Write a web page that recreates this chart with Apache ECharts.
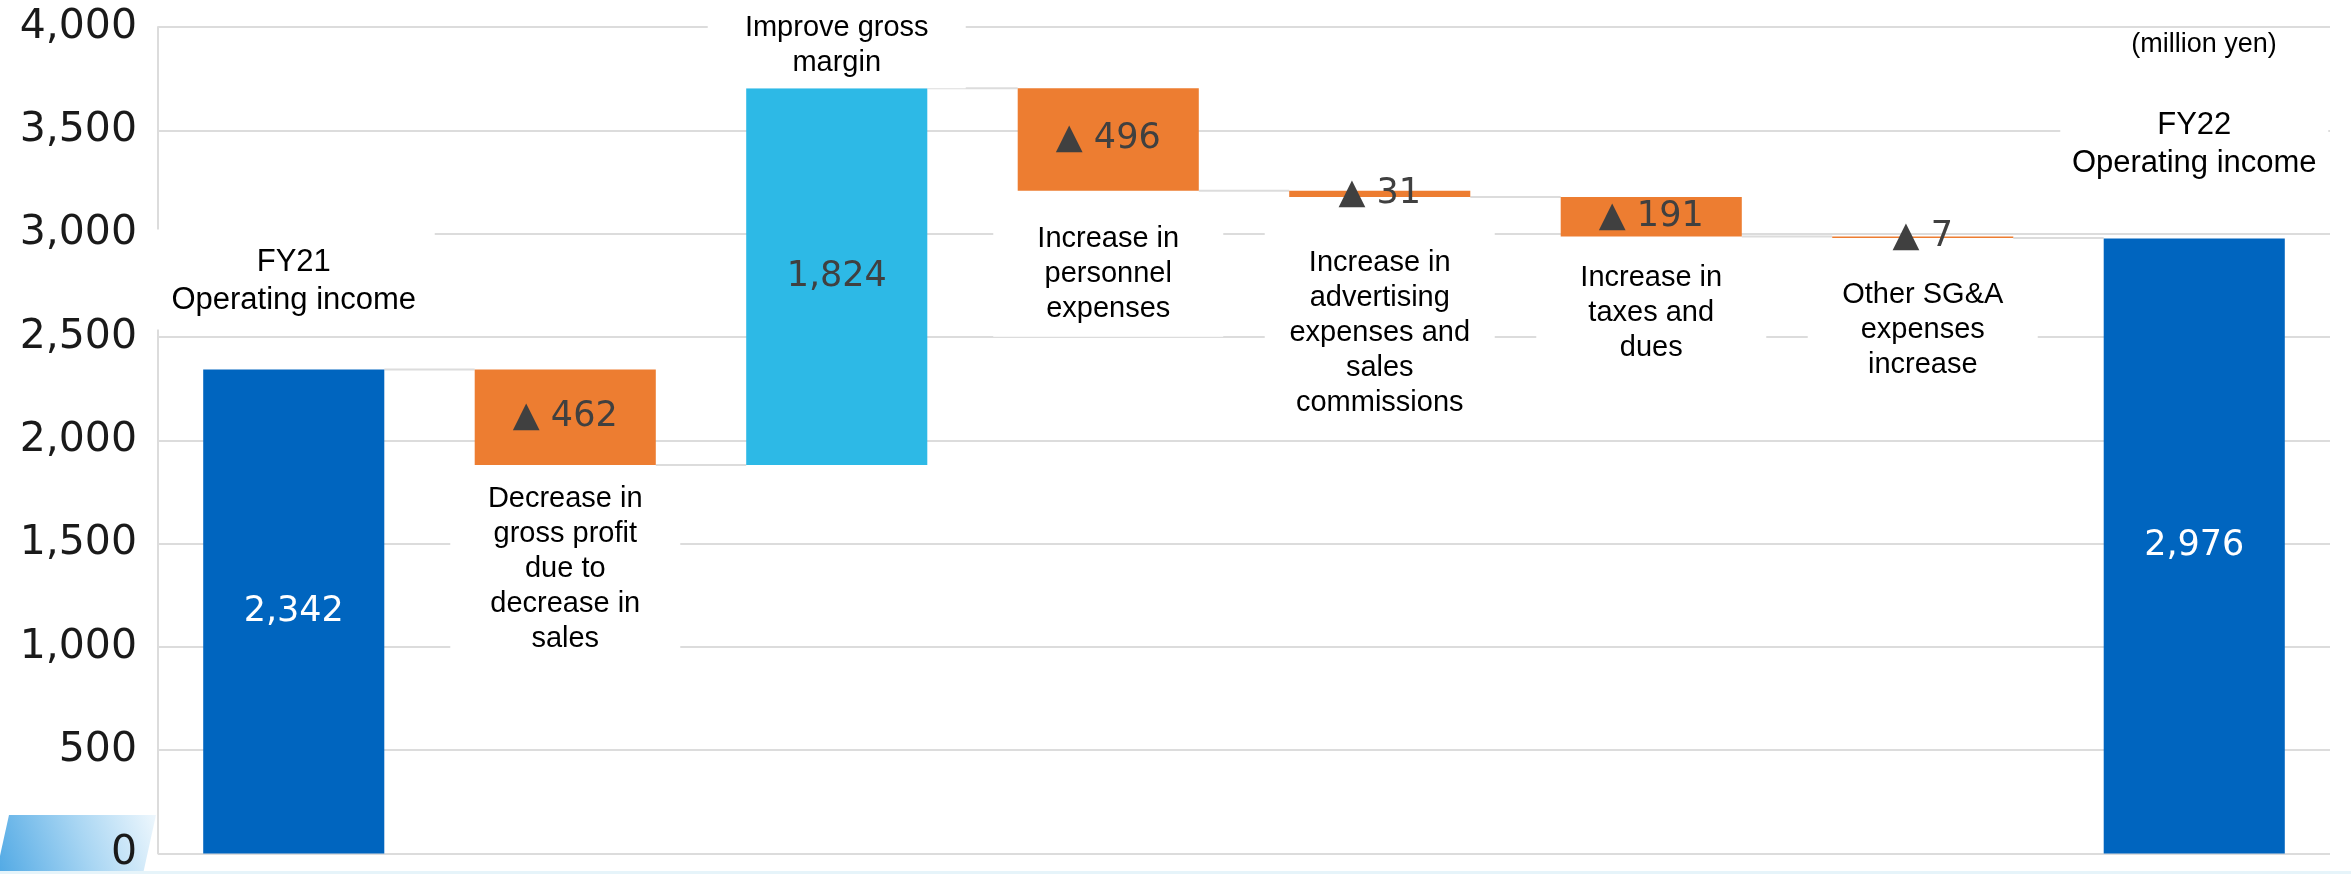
<!DOCTYPE html>
<html>
<head>
<meta charset="utf-8">
<script src="https://cdn.jsdelivr.net/npm/echarts@6/dist/echarts.min.js"></script>
<style>
  html, body { margin: 0; padding: 0; background: #ffffff; }
  #chart { width: 2351px; height: 874px; }
</style>
</head>
<body>
<div id="chart"></div>
<script>
// ---- data ----
const categories = [
  'FY21\nOperating income',
  'Decrease in\ngross profit\ndue to\ndecrease in\nsales',
  'Improve gross\nmargin',
  'Increase in\npersonnel\nexpenses',
  'Increase in\nadvertising\nexpenses and\nsales\ncommissions',
  'Increase in\ntaxes and\ndues',
  'Other SG&A\nexpenses\nincrease',
  'FY22\nOperating income'
];
const changes = [2342, -462, 1824, -496, -31, -191, -7, 2976];
const isTotal = [true, false, false, false, false, false, false, true];
const yMin = 0;
const yMax = 4000;
const yStep = 500;
const unitLabel = '(million yen)';

// ---- styling ----
const COLOR_TOTAL = '#0065BF';
const COLOR_UP = '#2DB9E6';
const COLOR_DOWN = '#ED7D31';
const GRID_COLOR = '#dcdcdc';
const BAR_RATIO = 0.667;
const CAPTION_FONT = '"Liberation Sans", Arial, sans-serif';
const VALUE_FONT = '"DejaVu Sans", sans-serif';

// caption box placement per category (offset from bar edge, inner padding)
const captionStyle = [
  { distance: 40, padding: [14, 10, 10, 10], width: 262, fontSize: 31, lineHeight: 38 },
  { distance: 6,  padding: [10, 8, 10, 8],   width: 214 },
  { distance: 0,  padding: [10, 10, 8, 10],  width: 238 },
  { distance: 21, padding: [10, 8, 10, 8],   width: 214 },
  { distance: 34, padding: [14, 8, 10, 8],   width: 214 },
  { distance: 14, padding: [10, 8, 10, 8],   width: 214 },
  { distance: 30, padding: [10, 8, 10, 8],   width: 214 },
  { distance: 46, padding: [14, 10, 10, 10], width: 248, fontSize: 31, lineHeight: 38 }
];

// ---- waterfall layout derived from the changes ----
const baseVals = [];
const heightVals = [];
const levels = [];
let running = 0;
changes.forEach((v, i) => {
  if (isTotal[i]) {
    baseVals.push(0);
    heightVals.push(v);
    running = v;
  } else if (v < 0) {
    baseVals.push(running + v);
    heightVals.push(-v);
    running += v;
  } else {
    baseVals.push(running);
    heightVals.push(v);
    running += v;
  }
  levels.push(running);
});

function valueText(i) {
  const v = changes[i];
  const s = Math.abs(v).toLocaleString('en-US');
  return v < 0 ? '▲ ' + s : s;
}
function barColor(i) {
  if (isTotal[i]) return COLOR_TOTAL;
  return changes[i] < 0 ? COLOR_DOWN : COLOR_UP;
}
function captionLabel(i, position) {
  const c = captionStyle[i];
  return {
    show: true,
    position: position,
    distance: c.distance,
    formatter: categories[i],
    color: '#000000',
    fontFamily: CAPTION_FONT,
    fontSize: c.fontSize || 29,
    lineHeight: c.lineHeight || 35,
    width: c.width,
    overflow: 'none',
    align: 'center',
    backgroundColor: '#ffffff',
    padding: c.padding
  };
}

// base (invisible) segment carries the captions that sit below a bar
const baseData = baseVals.map((b, i) => {
  const below = !isTotal[i] && changes[i] < 0;
  return {
    value: b,
    label: below ? captionLabel(i, 'insideTop') : { show: false }
  };
});

// visible segment with the value printed inside
const barData = heightVals.map((h, i) => ({
  value: h,
  itemStyle: { color: barColor(i) },
  label: {
    show: true,
    position: 'inside',
    formatter: valueText(i),
    color: isTotal[i] ? '#ffffff' : '#404040',
    fontFamily: VALUE_FONT,
    fontSize: 35
  }
}));

// zero-height cap segment carries the captions that sit above a bar
const capData = changes.map((v, i) => {
  if (v > 0) return { value: 0, label: captionLabel(i, 'top') };
  return '-';
});

const connectorData = levels.slice(0, levels.length - 1).map((lvl, i) => [i, lvl]);

const chart = echarts.init(document.getElementById('chart'), null, { renderer: 'canvas' });

chart.setOption({
  animation: false,
  backgroundColor: '#ffffff',
  grid: { left: 158, right: 21, top: 27, bottom: 14, containLabel: false },
  xAxis: {
    type: 'category',
    data: categories,
    axisLine: { show: false },
    axisTick: { show: false },
    axisLabel: { show: false },
    splitLine: { show: false }
  },
  yAxis: {
    type: 'value',
    min: yMin,
    max: yMax,
    interval: yStep,
    axisLine: { show: true, lineStyle: { color: GRID_COLOR, width: 2 } },
    axisTick: { show: false },
    axisLabel: {
      margin: 21,
      color: '#1a1a1a',
      fontFamily: VALUE_FONT,
      fontSize: 41,
      formatter: v => v.toLocaleString('en-US')
    },
    splitLine: { show: true, lineStyle: { color: GRID_COLOR, width: 2 } }
  },
  graphic: [
    {
      type: 'polygon',
      z: -1,
      silent: true,
      shape: { points: [[9, 815], [156, 815], [143, 874], [-4, 874]] },
      style: {
        fill: new echarts.graphic.LinearGradient(0, 1, 1, 0, [
          { offset: 0, color: '#4FA8E4' },
          { offset: 0.55, color: '#A9D6F3' },
          { offset: 1, color: '#EEF7FD' }
        ])
      }
    },
    {
      type: 'rect',
      z: -1,
      silent: true,
      shape: { x: 0, y: 871, width: 2351, height: 3 },
      style: { fill: '#E6F4FA' }
    },
    {
      type: 'text',
      x: 2204,
      y: 45,
      style: {
        text: unitLabel,
        align: 'center',
        verticalAlign: 'middle',
        fontFamily: CAPTION_FONT,
        fontSize: 27,
        fill: '#000000'
      }
    }
  ],
  series: [
    {
      name: 'connector',
      type: 'custom',
      z: 1,
      silent: true,
      data: connectorData,
      encode: { x: 0, y: 1 },
      renderItem: function (params, api) {
        const i = api.value(0);
        const lvl = api.value(1);
        const p0 = api.coord([i, lvl]);
        const p1 = api.coord([i + 1, lvl]);
        const half = api.size([1, 0])[0] * BAR_RATIO / 2;
        return {
          type: 'line',
          shape: { x1: p0[0] + half, y1: p0[1], x2: p1[0] - half, y2: p1[1] },
          style: { stroke: GRID_COLOR, lineWidth: 2 }
        };
      }
    },
    {
      name: 'base',
      type: 'bar',
      stack: 'w',
      z: 2,
      silent: true,
      barCategoryGap: '33.3%',
      itemStyle: { color: 'rgba(0,0,0,0)' },
      data: baseData
    },
    {
      name: 'value',
      type: 'bar',
      stack: 'w',
      z: 3,
      silent: true,
      barCategoryGap: '33.3%',
      data: barData
    },
    {
      name: 'cap',
      type: 'bar',
      stack: 'w',
      z: 3,
      silent: true,
      barCategoryGap: '33.3%',
      itemStyle: { color: 'rgba(0,0,0,0)' },
      data: capData
    }
  ]
});
</script>
</body>
</html>
